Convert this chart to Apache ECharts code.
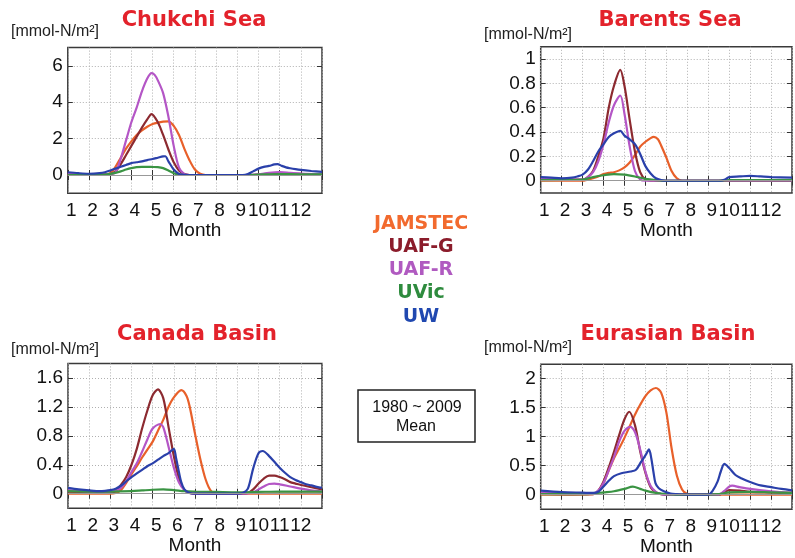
<!DOCTYPE html>
<html>
<head>
<meta charset="utf-8">
<script src="https://cdn.jsdelivr.net/npm/echarts@6/dist/echarts.min.js"></script>
<style>
html,body{margin:0;padding:0;background:#fff;}
#chart{width:795px;height:558px;}
</style>
</head>
<body>
<div id="chart"></div>
<script>
// ---------- data ----------
const monthLabels = ['1','2','3','4','5','6','7','8','9','10','11','12'];
const modelNames = ['JAMSTEC','UAF-G','UAF-R','UVic','UW'];
const panelTitles = ['Chukchi Sea','Barents Sea','Canada Basin','Eurasian Basin'];
const unitLabel = '[mmol-N/m²]';
const xAxisName = 'Month';
const periodText = ['1980 ~ 2009','Mean'];

const chukchiYTicks = [0,2,4,6];
const barentsYTicks = [0,0.2,0.4,0.6,0.8,1];
const canadaYTicks = [0,0.4,0.8,1.2,1.6];
const eurasianYTicks = [0,0.5,1,1.5,2];

// [month, value]
const chukchiJAMSTEC = [[1,0.02],[2,0.01],[2.75,0.03],[3,0.1],[3.25,0.45],[3.5,0.95],[3.75,1.45],[4,1.85],[4.25,2.2],[4.5,2.45],[4.75,2.65],[5,2.8],[5.25,2.88],[5.5,2.93],[5.75,2.95],[6,2.7],[6.25,2.2],[6.5,1.45],[6.75,0.8],[7,0.3],[7.25,0.07],[7.5,0],[9,0],[10,0],[11,0.01],[12,0.01],[13,0]];
const chukchiUAFG = [[1,0.02],[2,0.01],[3,0.05],[3.25,0.2],[3.5,0.6],[3.75,1.1],[4,1.6],[4.25,2.1],[4.5,2.6],[4.75,3.05],[4.95,3.35],[5.25,2.9],[5.5,2.2],[5.75,1.4],[6,0.7],[6.25,0.25],[6.5,0.05],[6.75,0],[9.5,0],[10,0.03],[10.5,0.08],[11,0.1],[11.5,0.08],[12,0.06],[13,0.03]];
const chukchiUAFR = [[1,0.05],[2,0.02],[3,0.05],[3.25,0.15],[3.5,0.9],[3.75,1.9],[4,2.9],[4.25,3.7],[4.5,4.6],[4.75,5.3],[4.95,5.6],[5.1,5.5],[5.25,5.2],[5.5,4.5],[5.75,3.2],[6,1.6],[6.25,0.4],[6.5,0.05],[6.75,0],[9.5,0],[10,0.03],[10.5,0.12],[11,0.16],[11.5,0.12],[12,0.08],[13,0.04]];
const chukchiUVic = [[1,0],[2,0],[2.75,0.02],[3,0.06],[3.25,0.12],[3.5,0.2],[3.75,0.3],[4,0.38],[4.25,0.43],[4.5,0.45],[5,0.44],[5.25,0.43],[5.5,0.38],[5.75,0.25],[6,0.1],[6.25,0.03],[6.5,0],[9.5,0],[10,0.02],[11,0.05],[12,0.04],[13,0.03]];
const chukchiUW = [[1,0.15],[1.5,0.1],[2,0.07],[2.5,0.1],[2.75,0.15],[3,0.25],[3.25,0.35],[3.5,0.45],[3.75,0.55],[4,0.65],[4.25,0.7],[4.5,0.75],[4.75,0.82],[5,0.88],[5.25,0.95],[5.5,1.02],[5.6,1.03],[5.75,0.75],[6,0.3],[6.25,0.06],[6.5,0.01],[7,0],[9.25,0],[9.5,0.05],[9.75,0.2],[10,0.35],[10.25,0.45],[10.5,0.5],[10.75,0.58],[10.9,0.6],[11.1,0.5],[11.3,0.42],[11.5,0.37],[11.75,0.32],[12,0.28],[12.5,0.22],[13,0.17]];

const barentsJAMSTEC = [[1,0],[3,0],[3.5,0.02],[3.75,0.035],[4,0.055],[4.25,0.065],[4.5,0.07],[4.75,0.085],[5,0.11],[5.25,0.15],[5.5,0.21],[5.75,0.28],[6,0.32],[6.25,0.35],[6.4,0.36],[6.6,0.34],[6.75,0.29],[7,0.19],[7.25,0.08],[7.5,0.02],[7.75,0],[13,0]];
const barentsUAFG = [[1,0.01],[3,0.01],[3.25,0.03],[3.5,0.08],[3.75,0.2],[4,0.35],[4.25,0.6],[4.5,0.78],[4.8,0.91],[5,0.78],[5.25,0.5],[5.5,0.24],[5.75,0.07],[6,0.01],[6.25,0],[13,0]];
const barentsUAFR = [[1,0.015],[3,0.01],[3.25,0.03],[3.5,0.07],[3.75,0.16],[4,0.3],[4.25,0.48],[4.5,0.62],[4.8,0.7],[5,0.55],[5.25,0.28],[5.5,0.08],[5.75,0.01],[6,0],[13,0]];
const barentsUVic = [[1,0.005],[3,0.01],[3.5,0.03],[4,0.045],[4.5,0.055],[5,0.05],[5.5,0.035],[6,0.015],[6.5,0.005],[7,0],[9.5,0],[10,0.005],[13,0.005]];
const barentsUW = [[1,0.03],[1.5,0.025],[2,0.02],[2.5,0.025],[2.75,0.035],[3,0.05],[3.25,0.09],[3.5,0.16],[3.75,0.24],[4,0.3],[4.25,0.36],[4.5,0.39],[4.8,0.41],[5,0.37],[5.25,0.34],[5.5,0.3],[5.75,0.22],[6,0.12],[6.25,0.06],[6.5,0.02],[6.75,0.005],[7,0],[9.6,0],[9.8,0.01],[10,0.03],[10.5,0.035],[11,0.04],[11.5,0.035],[12,0.03],[13,0.025]];

const canadaJAMSTEC = [[1,0],[3,0],[3.25,0.01],[3.5,0.05],[3.75,0.15],[4,0.27],[4.25,0.38],[4.5,0.5],[4.75,0.61],[5,0.72],[5.25,0.87],[5.5,1.02],[5.75,1.2],[6,1.33],[6.35,1.43],[6.6,1.35],[6.75,1.2],[7,0.83],[7.25,0.48],[7.5,0.2],[7.75,0.04],[8,0],[13,0]];
const canadaUAFG = [[1,0.03],[2,0.02],[3,0.01],[3.25,0.04],[3.5,0.12],[3.75,0.23],[4,0.4],[4.25,0.62],[4.5,0.9],[4.75,1.15],[5,1.36],[5.25,1.44],[5.5,1.32],[5.75,0.92],[6,0.52],[6.25,0.2],[6.5,0.05],[6.75,0.01],[7,0],[9.25,0],[9.5,0.01],[9.75,0.06],[10,0.14],[10.25,0.21],[10.5,0.25],[10.75,0.25],[11,0.23],[11.25,0.2],[11.5,0.16],[11.75,0.14],[12,0.12],[12.5,0.09],[13,0.06]];
const canadaUAFR = [[1,0.05],[2,0.03],[3,0.03],[3.25,0.04],[3.5,0.08],[3.75,0.17],[4,0.3],[4.25,0.42],[4.5,0.58],[4.75,0.75],[5,0.9],[5.35,0.96],[5.5,0.92],[5.75,0.65],[6,0.36],[6.25,0.15],[6.5,0.05],[6.75,0.01],[7,0],[9.5,0.005],[9.75,0.02],[10,0.06],[10.25,0.1],[10.5,0.135],[10.75,0.14],[11,0.13],[11.5,0.1],[12,0.07],[12.5,0.045],[13,0.03]];
const canadaUVic = [[1,0.035],[2,0.03],[3,0.03],[4,0.035],[4.5,0.045],[5,0.055],[5.5,0.06],[6,0.05],[6.5,0.035],[7,0.03],[8,0.025],[9,0.02],[10,0.025],[11,0.03],[12,0.03],[13,0.03]];
const canadaUW = [[1,0.08],[1.5,0.06],[2,0.045],[2.5,0.035],[2.75,0.04],[3,0.05],[3.25,0.07],[3.5,0.11],[3.75,0.17],[4,0.23],[4.25,0.28],[4.5,0.33],[4.75,0.38],[5,0.42],[5.25,0.47],[5.5,0.52],[5.75,0.56],[6,0.62],[6.1,0.5],[6.2,0.36],[6.35,0.16],[6.5,0.06],[6.75,0.01],[7,0],[9,0],[9.25,0.01],[9.5,0.07],[9.75,0.35],[10,0.56],[10.2,0.59],[10.5,0.52],[10.75,0.44],[11,0.36],[11.25,0.29],[11.5,0.23],[11.75,0.19],[12,0.16],[12.25,0.13],[12.5,0.115],[12.75,0.095],[13,0.08]];

const eurasianJAMSTEC = [[1,0],[3.5,0.01],[3.75,0.06],[4,0.2],[4.25,0.42],[4.5,0.63],[4.75,0.8],[5,0.98],[5.25,1.18],[5.5,1.38],[5.75,1.55],[6,1.7],[6.25,1.8],[6.5,1.84],[6.75,1.76],[7,1.42],[7.25,0.8],[7.5,0.33],[7.75,0.09],[8,0.01],[8.25,0],[13,0]];
const eurasianUAFG = [[1,0.02],[3,0.01],[3.5,0.01],[3.75,0.07],[4,0.23],[4.25,0.47],[4.5,0.74],[4.75,1.03],[5,1.3],[5.23,1.43],[5.5,1.2],[5.75,0.75],[6,0.38],[6.25,0.13],[6.5,0.04],[6.75,0.01],[7,0],[9.5,0],[9.75,0.04],[10,0.08],[10.5,0.07],[11,0.05],[12,0.04],[13,0.03]];
const eurasianUAFR = [[1,0.03],[3,0.02],[3.5,0.02],[3.75,0.07],[4,0.2],[4.25,0.42],[4.5,0.65],[4.75,0.92],[5,1.1],[5.27,1.17],[5.5,1.08],[5.75,0.78],[6,0.4],[6.25,0.15],[6.5,0.05],[6.75,0.01],[7,0],[9.5,0],[9.75,0.06],[10,0.14],[10.15,0.155],[10.5,0.13],[11,0.1],[12,0.06],[13,0.03]];
const eurasianUVic = [[1,0.01],[3,0.01],[3.5,0.02],[4,0.04],[4.5,0.06],[5,0.1],[5.4,0.14],[5.75,0.1],[6,0.07],[6.5,0.03],[7,0.01],[8,0],[9.5,0.01],[10,0.04],[11,0.05],[12,0.04],[13,0.03]];
const eurasianUW = [[1,0.07],[2,0.045],[3,0.035],[3.5,0.03],[3.75,0.05],[4,0.14],[4.25,0.24],[4.5,0.32],[4.85,0.37],[5.3,0.4],[5.55,0.43],[5.8,0.57],[6.02,0.69],[6.17,0.78],[6.28,0.63],[6.38,0.4],[6.48,0.2],[6.64,0.11],[6.88,0.06],[7.2,0.02],[7.5,0.01],[8,0],[9,0],[9.2,0.06],[9.45,0.23],[9.6,0.4],[9.77,0.53],[10,0.46],[10.3,0.34],[10.6,0.28],[11,0.22],[11.5,0.16],[12,0.13],[12.5,0.1],[13,0.075]];

// ---------- styling / layout ----------
const lineColors = ['#e8602a','#8c2a30','#b456c6','#3a9443','#2a40aa'];
const legendColors = ['#f26a2e','#8b1c2b','#b05ac0','#2e8b3e','#2048b0'];

const panels = [
  {grid:{left:67.8, top:47.6, width:254.2, height:145.6}, min:-1, max:7, ticks:chukchiYTicks,
   data:[chukchiJAMSTEC,chukchiUAFG,chukchiUAFR,chukchiUVic,chukchiUW],
   title:{x:194,y:21}, unit:{x:55,y:32}},
  {grid:{left:540.7, top:46.8, width:255, height:146.1}, min:-0.1, max:1.1, ticks:barentsYTicks,
   data:[barentsJAMSTEC,barentsUAFG,barentsUAFR,barentsUVic,barentsUW],
   title:{x:670,y:21}, unit:{x:528,y:35}},
  {grid:{left:68, top:363.4, width:254, height:144.8}, min:-0.2, max:1.8, ticks:canadaYTicks,
   data:[canadaJAMSTEC,canadaUAFG,canadaUAFR,canadaUVic,canadaUW],
   title:{x:197,y:335}, unit:{x:55,y:350}},
  {grid:{left:540.7, top:364.2, width:255, height:145}, min:-0.25, max:2.25, ticks:eurasianYTicks,
   data:[eurasianJAMSTEC,eurasianUAFG,eurasianUAFR,eurasianUVic,eurasianUW],
   title:{x:668,y:335}, unit:{x:528,y:348}}
];

const axisFont = 'Liberation Sans, Arial, sans-serif';
const grids = [], xAxes = [], yAxes = [], series = [], graphics = [];

panels.forEach((p, i) => {
  grids.push(Object.assign({show:true, borderColor:'#3a3a3a', borderWidth:1.5, backgroundColor:'#fff'}, p.grid));
  // bottom x axis
  xAxes.push({type:'value', gridIndex:i, min:1, max:13, interval:1, position:'bottom',
    axisLine:{show:false},
    axisTick:{show:true, inside:true, length:5, lineStyle:{color:'#333', width:1}},
    axisLabel:{show:true, margin:8, fontSize:19, color:'#111', fontFamily:axisFont,
      formatter:(v)=> {
        const t = monthLabels[Math.round(v)-1];
        if (!t) return '';
        return t.length === 1 ? '{s|' + t + '}' : '{d|' + t + '}';
      },
      rich:{
        s:{fontSize:19, color:'#111', fontFamily:axisFont, padding:[0,0,0,7]},
        d:{fontSize:19, color:'#111', fontFamily:axisFont}
      }},
    splitLine:{show:true, lineStyle:{color:'#b0b0b0', width:1, type:[1,2]}},
    name:xAxisName, nameLocation:'middle', nameGap:26,
    nameTextStyle:{fontSize:19, color:'#111', fontFamily:axisFont}});
  // top x axis (ticks only)
  xAxes.push({type:'value', gridIndex:i, min:1, max:13, interval:1, position:'top',
    axisLine:{show:false},
    axisTick:{show:true, inside:true, length:5, lineStyle:{color:'#333', width:1}},
    axisLabel:{show:false}, splitLine:{show:false}});
  // left y axis
  yAxes.push({type:'value', gridIndex:i, min:p.min, max:p.max, position:'left',
    axisLine:{show:false},
    axisTick:{show:true, inside:true, length:5, customValues:p.ticks, lineStyle:{color:'#333', width:1}},
    axisLabel:{show:true, customValues:p.ticks, margin:5, fontSize:19, color:'#111', fontFamily:axisFont},
    splitLine:{show:true, lineStyle:{color:'#b0b0b0', width:1, type:[1,2]}}});
  // right y axis (ticks only)
  yAxes.push({type:'value', gridIndex:i, min:p.min, max:p.max, position:'right',
    axisLine:{show:false},
    axisTick:{show:true, inside:true, length:5, customValues:p.ticks, lineStyle:{color:'#333', width:1}},
    axisLabel:{show:false}, splitLine:{show:false}});

  p.data.forEach((d, k) => {
    const s = {type:'line', name:modelNames[k], xAxisIndex:i*2, yAxisIndex:i*2, data:d,
      smooth:0.3, showSymbol:false, symbol:'none', silent:true,
      lineStyle:{color:lineColors[k], width:2.2}, itemStyle:{color:lineColors[k]}};
    if (k === 0) {
      s.markLine = {silent:true, symbol:['none','none'], label:{show:false},
        lineStyle:{color:'#999', type:'solid', width:1}, data:[{yAxis:0}]};
    }
    series.push(s);
  });

  graphics.push({type:'text', x:p.title.x, y:p.title.y, z:10,
    style:{text:panelTitles[i], fill:'#e3222b',
      font:'bold 21px "DejaVu Sans", sans-serif', align:'center', verticalAlign:'middle'}});
  graphics.push({type:'text', x:p.unit.x, y:p.unit.y, z:10,
    style:{text:unitLabel, fill:'#222', font:'16px "Liberation Sans", Arial, sans-serif', align:'center', verticalAlign:'middle'}});
});

// legend as text
const legendY = [224, 247, 270, 293.5, 317];
modelNames.forEach((n, k) => {
  graphics.push({type:'text', x:421, y:legendY[k], z:10,
    style:{text:n, fill:legendColors[k],
      font:'bold 19px "DejaVu Sans", sans-serif', align:'center', verticalAlign:'middle'}});
});
// period box
graphics.push({type:'rect', shape:{x:358, y:390, width:117, height:52}, z:10,
  style:{fill:'#fff', stroke:'#222', lineWidth:1.5}});
graphics.push({type:'text', x:417, y:407.5, z:11,
  style:{text:periodText[0], fill:'#111', font:'16px "Liberation Sans", Arial, sans-serif', align:'center', verticalAlign:'middle'}});
graphics.push({type:'text', x:416, y:427, z:11,
  style:{text:periodText[1], fill:'#111', font:'16px "Liberation Sans", Arial, sans-serif', align:'center', verticalAlign:'middle'}});

const chart = echarts.init(document.getElementById('chart'), null, {renderer:'canvas'});
chart.setOption({
  animation:false,
  backgroundColor:'#fff',
  grid:grids, xAxis:xAxes, yAxis:yAxes, series:series, graphic:graphics
});
</script>
</body>
</html>
